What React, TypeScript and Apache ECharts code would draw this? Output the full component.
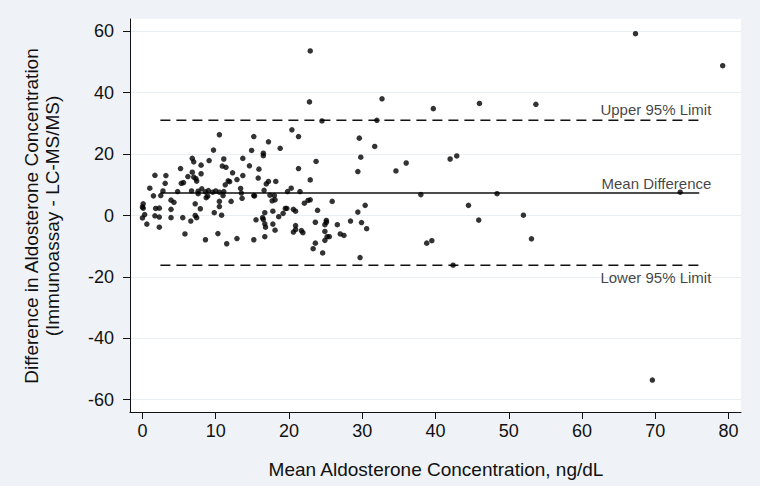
import React, { useEffect, useRef } from "react";
import * as echarts from "echarts";

// Mean aldosterone concentration (ng/dL) for each sample
const meanConc: number[] = [
  67.3, 79.2, 22.9, 22.8, 32.7, 39.7, 46.0, 53.7, 24.5, 32.0,
  20.4, 10.5, 15.2, 21.3, 29.6, 17.2, 18.8, 31.7, 9.7, 14.9,
  16.5, 16.5, 29.8, 42.9, 42.0, 36.0, 6.8, 7.0, 9.1, 11.1,
  8.0, 13.7, 23.7, 10.9, 11.4, 14.6, 5.2, 21.3, 15.9, 29.4,
  34.6, 6.8, 12.3, 1.7, 3.2, 8.0, 13.7, 6.2, 7.0, 7.3,
  15.8, 12.9, 22.9, 11.7, 11.9, 17.2, 16.9, 18.2, 7.4, 5.6,
  5.3, 3.1, 11.3, 1.0, 13.4, 20.3, 8.1, 16.6, 9.0, 2.8,
  6.7, 7.6, 4.8, 10.0, 11.1, 21.5, 19.8, 9.6, 8.6, 10.5,
  13.5, 7.6, 73.4, 48.4, 38.0, 17.4, 18.0, 15.2, 1.5, 2.5,
  11.0, 8.9, 8.7, 13.6, 15.3, 18.1, 3.9, 17.7, 22.9, 22.6,
  25.9, 12.1, 4.3, 10.5, 22.1, 7.2, 0.1, 30.4, 44.5, 0.0,
  0.1, 1.8, 2.3, 7.9, 19.7, 19.5, 20.6, 10.5, 3.9, 20.9,
  23.9, 16.7, 17.8, 9.8, 29.4, 0.3, 10.8, 19.2, 52.0, 1.7,
  2.3, 7.2, 7.4, 16.4, 0.0, 5.5, 3.9, 18.6, 16.5, 15.5,
  45.9, 6.6, 28.4, 25.1, 25.1, 23.6, 29.9, 0.6, 16.7, 17.8,
  20.9, 24.9, 26.6, 2.3, 16.8, 30.6, 20.9, 21.7, 18.1, 20.6,
  21.9, 24.9, 5.8, 10.3, 27.0, 27.5, 25.5, 25.2, 16.7, 8.6,
  12.9, 15.2, 53.1, 24.9, 11.5, 23.6, 39.5, 38.8, 23.3, 24.6,
  29.7, 42.4, 69.6
];

// Difference (Immunoassay - LC-MS/MS) for each sample
const diffConc: number[] = [
  59.2, 48.8, 53.6, 37.0, 38.0, 34.8, 36.5, 36.2, 30.8, 31.0,
  27.9, 26.3, 25.7, 25.7, 25.2, 24.0, 21.9, 22.5, 21.3, 21.2,
  20.3, 19.5, 19.0, 19.4, 18.4, 17.1, 18.6, 17.5, 17.9, 18.4,
  16.4, 18.6, 17.6, 16.1, 15.7, 16.2, 15.3, 15.3, 15.1, 14.3,
  14.5, 14.1, 13.9, 13.1, 13.0, 13.6, 13.0, 12.7, 12.5, 12.0,
  12.2, 11.7, 11.6, 11.3, 11.0, 11.1, 10.3, 11.1, 11.2, 10.7,
  10.5, 10.5, 10.0, 8.9, 8.8, 8.9, 8.7, 8.2, 8.1, 8.0,
  8.0, 7.9, 7.8, 8.0, 7.8, 7.8, 7.8, 7.6, 7.7, 7.6,
  7.3, 7.1, 7.6, 7.1, 6.8, 6.6, 6.5, 6.5, 6.4, 6.5,
  6.5, 6.3, 5.8, 5.6, 6.4, 5.1, 5.0, 4.8, 5.1, 4.9,
  4.6, 4.6, 4.3, 4.6, 4.0, 3.8, 3.8, 3.3, 3.3, 2.8,
  2.4, 2.3, 2.4, 2.2, 2.3, 2.3, 2.0, 2.9, 2.0, 1.4,
  1.7, 0.9, 1.4, 0.9, 1.1, 0.3, 0.1, 0.7, 0.1, -0.1,
  -0.5, 0.0, -0.7, -0.7, -0.8, -0.7, -0.7, -0.4, -1.3, -1.4,
  -1.5, -1.8, -1.8, -1.6, -2.2, -2.2, -2.3, -2.8, -2.7, -2.8,
  -3.3, -3.0, -3.0, -3.8, -3.8, -4.3, -4.6, -4.9, -4.8, -5.4,
  -5.6, -5.2, -6.0, -5.9, -6.0, -6.5, -6.9, -6.9, -6.9, -7.9,
  -7.5, -7.9, -7.6, -8.1, -9.2, -9.0, -8.2, -9.0, -10.8, -12.2,
  -13.7, -16.2, -53.6
];

const xTicks: number[] = [0, 10, 20, 30, 40, 50, 60, 70, 80];
const yTicks: number[] = [-60, -40, -20, 0, 20, 40, 60];

const limitNames: string[] = ["Upper 95% Limit", "Mean Difference", "Lower 95% Limit"];
const limitValues: number[] = [31.0, 7.3, -16.2];
const limitStart = 2.45;
const limitEnd = 76.0;
const limitLabelX = 77.65;

const FONT = "'Liberation Sans', Arial, Helvetica, sans-serif";
const TEXT = "#111111";

export default function App() {
  const ref = useRef<HTMLDivElement>(null);

  useEffect(() => {
    if (!ref.current) return;
    const chart = echarts.init(ref.current, null, { renderer: "svg" });

    const lineStyles = [
      { type: [10, 6] as number[], width: 1.6 },
      { type: "solid" as const, width: 1.5 },
      { type: [10, 6] as number[], width: 1.6 },
    ];
    const labelOffsets = [-11, -10, 12];

    const limitSeries: any[] = [];
    limitValues.forEach((v, i) => {
      limitSeries.push({
        type: "line",
        name: limitNames[i],
        data: [
          [limitStart, v],
          [limitEnd, v],
        ],
        symbol: "none",
        silent: true,
        z: 1,
        lineStyle: { color: "#111", width: lineStyles[i].width, type: lineStyles[i].type },
      });
      limitSeries.push({
        type: "scatter",
        data: [[limitLabelX, v]],
        symbolSize: 0,
        silent: true,
        z: 3,
        label: {
          show: true,
          formatter: limitNames[i],
          position: "left",
          distance: 0,
          offset: [0, labelOffsets[i]],
          color: TEXT,
          fontSize: 15,
          fontFamily: FONT,
        },
      });
    });

    chart.setOption({
      animation: false,
      backgroundColor: "#eff3f7",
      grid: {
        left: 130,
        top: 19,
        right: 19,
        bottom: 74,
        show: true,
        backgroundColor: "#ffffff",
        borderWidth: 0,
      },
      xAxis: {
        type: "value",
        min: -1.7,
        max: 81.7,
        axisLine: { show: true, onZero: false, lineStyle: { color: "#111", width: 1 } },
        axisTick: {
          show: true,
          length: 7,
          customValues: xTicks,
          lineStyle: { color: "#111", width: 1 },
        },
        axisLabel: {
          customValues: xTicks,
          fontSize: 18,
          color: TEXT,
          fontFamily: FONT,
          margin: 10,
        },
        splitLine: { show: false },
      },
      yAxis: {
        type: "value",
        min: -64,
        max: 64,
        axisLine: { show: true, onZero: false, lineStyle: { color: "#111", width: 1 } },
        axisTick: {
          show: true,
          length: 7,
          customValues: yTicks,
          lineStyle: { color: "#111", width: 1 },
        },
        axisLabel: {
          customValues: yTicks,
          fontSize: 18,
          color: TEXT,
          fontFamily: FONT,
          margin: 16,
        },
        splitLine: { show: true, lineStyle: { color: "#e8eef2", width: 1 } },
      },
      graphic: [
        {
          type: "text",
          x: 436,
          y: 469,
          style: {
            text: "Mean Aldosterone Concentration, ng/dL",
            fontSize: 19,
            fontFamily: FONT,
            fill: TEXT,
            align: "center",
            verticalAlign: "middle",
          },
        },
        {
          type: "text",
          x: 42,
          y: 216,
          rotation: Math.PI / 2,
          style: {
            text: "Difference in Aldosterone Concentration\n(Immunoassay - LC-MS/MS)",
            fontSize: 19,
            lineHeight: 21,
            fontFamily: FONT,
            fill: TEXT,
            align: "center",
            verticalAlign: "middle",
          },
        },
      ],
      series: [
        ...limitSeries,
        {
          type: "scatter",
          data: meanConc.map((x, i) => [x, diffConc[i]]),
          symbol: "circle",
          symbolSize: 5.5,
          z: 4,
          itemStyle: { color: "#000000" },
        },
      ],
    });

    return () => chart.dispose();
  }, []);

  return (
    <div
      ref={ref}
      style={{ position: "fixed", left: 0, top: 0, width: 760, height: 486 }}
    />
  );
}
